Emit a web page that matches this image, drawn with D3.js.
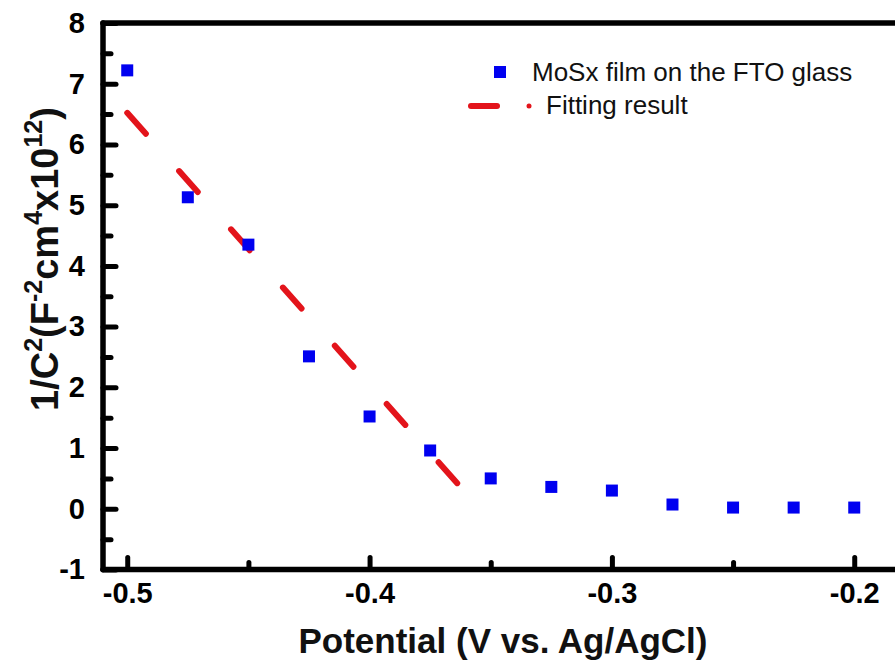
<!DOCTYPE html>
<html><head><meta charset="utf-8">
<script src="https://cdn.jsdelivr.net/npm/d3@7"></script>
<style>
body{margin:0;background:#fff;}
svg{display:block;font-family:"Liberation Sans",Arial,sans-serif;}
</style>
</head><body><svg id="c" width="895" height="666"></svg>
<script>
// ---- data ----
const potential = [-0.5, -0.475, -0.45, -0.425, -0.4, -0.375, -0.35, -0.325, -0.3, -0.275, -0.25, -0.225, -0.2];
const invC2 = [7.22, 5.13, 4.35, 2.51, 1.52, 0.96, 0.50, 0.36, 0.30, 0.07, 0.02, 0.02, 0.02];
const fitX = [-0.5, -0.362];
const fitY = [6.52, 0.34];
const xMajor = [-0.5, -0.4, -0.3, -0.2];
const xMinor = [-0.45, -0.35, -0.25];
const yMajor = [-1, 0, 1, 2, 3, 4, 5, 6, 7, 8];
const yMinor = [-0.5, 0.5, 1.5, 2.5, 3.5, 4.5, 5.5, 6.5, 7.5];
const seriesNames = ["MoSx film on the FTO glass", "Fitting result"];

const svg = d3.select("#c");
const x = d3.scaleLinear().domain([-0.51, -0.18]).range([103, 902.7]);
const y = d3.scaleLinear().domain([-1, 8]).range([569.5, 23]);
const BLUE = "#0000f0", RED = "#e3141b";

// ---- axes ticks ----
function styleAxis(g){
  g.select(".domain").remove();
  g.selectAll(".tick line").attr("stroke","#000").attr("stroke-width",5).attr("stroke-linecap","round");
  g.selectAll(".tick text").style("fill","#000").style("font-weight","bold").style("font-size","29px")
   .style("font-family",'"Liberation Sans",Arial,sans-serif');
}
const fmt = d => d3.format(".1f")(d).replace("\u2212","-");
svg.append("g").attr("transform",`translate(0,${y(-1)})`)
  .call(d3.axisBottom(x).tickValues(xMajor).tickSize(-12).tickPadding(13).tickFormat(fmt))
  .call(styleAxis)
  .call(g=>g.selectAll(".tick text").attr("y",13).attr("dy","0.72em"));
svg.append("g").attr("transform",`translate(0,${y(-1)})`)
  .call(d3.axisBottom(x).tickValues(xMinor).tickSize(-7).tickFormat(""))
  .call(styleAxis);
svg.append("g").attr("transform",`translate(${x(-0.51)},0)`)
  .call(d3.axisLeft(y).tickValues(yMajor).tickSize(-13).tickPadding(18).tickFormat(d=>String(d).replace("\u2212","-")))
  .call(styleAxis)
  .call(g=>g.selectAll(".tick text").attr("x",-18));
svg.append("g").attr("transform",`translate(${x(-0.51)},0)`)
  .call(d3.axisLeft(y).tickValues(yMinor).tickSize(-8).tickFormat(""))
  .call(styleAxis);

// ---- frame (filled bars) ----
const x0 = x(-0.51), x1 = x(-0.18), yT = y(8), yB = y(-1), W = 5.5;
const fr = svg.append("g").attr("fill","#000");
fr.append("rect").attr("x",x0-W/2).attr("y",yT-W/2).attr("width",W).attr("height",yB-yT+W).attr("rx",W/2);
fr.append("rect").attr("x",x0-W/2).attr("y",yT-W/2).attr("width",x1-x0+W).attr("height",W).attr("rx",W/2);
fr.append("rect").attr("x",x0-W/2).attr("y",yB-W/2).attr("width",x1-x0+W).attr("height",W).attr("rx",W/2);

// ---- fit line ----
svg.append("path")
  .datum(fitX.map((v,i)=>[v,fitY[i]]))
  .attr("d", d3.line().x(d=>x(d[0])).y(d=>y(d[1])))
  .style("fill","none").style("stroke",RED).style("stroke-width","6px")
  .style("stroke-linecap","round").style("stroke-dasharray","28,50");

// ---- points ----
const S = 12;
svg.append("g").selectAll("rect").data(potential.map((v,i)=>[v,invC2[i]])).join("rect")
  .attr("x",d=>x(d[0])-S/2).attr("y",d=>y(d[1])-S/2).attr("width",S).attr("height",S)
  .style("fill",BLUE);

// ---- legend ----
const lg = svg.append("g");
lg.append("rect").attr("x",500-S/2).attr("y",72-S/2).attr("width",S).attr("height",S).style("fill",BLUE);
lg.append("text").attr("x",532).attr("y",81).style("font-size","26px").style("fill","#111").text(seriesNames[0]);
lg.append("line").attr("x1",471).attr("x2",497).attr("y1",106).attr("y2",106)
  .style("stroke",RED).style("stroke-width","6px").style("stroke-linecap","round");
lg.append("circle").attr("cx",529).attr("cy",106).attr("r",2.5).style("fill",RED);
lg.append("text").attr("x",546).attr("y",114).style("font-size","26px").style("fill","#111").text(seriesNames[1]);

// ---- axis titles ----
svg.append("text").attr("x",503).attr("y",653).attr("text-anchor","middle")
  .style("font-size","35px").style("font-weight","bold").style("fill","#111")
  .text("Potential (V vs. Ag/AgCl)");

const yt = svg.append("text").attr("transform","translate(58,259) rotate(-90)")
  .attr("text-anchor","middle").style("font-size","38px").style("font-weight","bold").style("fill","#111");
const parts = [["1/C",0],["2",1],["(F",0],["-2",1],["cm",0],["4",1],["x10",0],["12",1],[")",0]];
parts.forEach(([t,sup],i)=>{
  const prevSup = i>0 && parts[i-1][1];
  const ts = yt.append("tspan").text(t);
  if(sup){ ts.style("font-size","25px").attr("dy",-16); }
  else if(prevSup){ ts.attr("dy",16); }
});
</script>
</body></html>
